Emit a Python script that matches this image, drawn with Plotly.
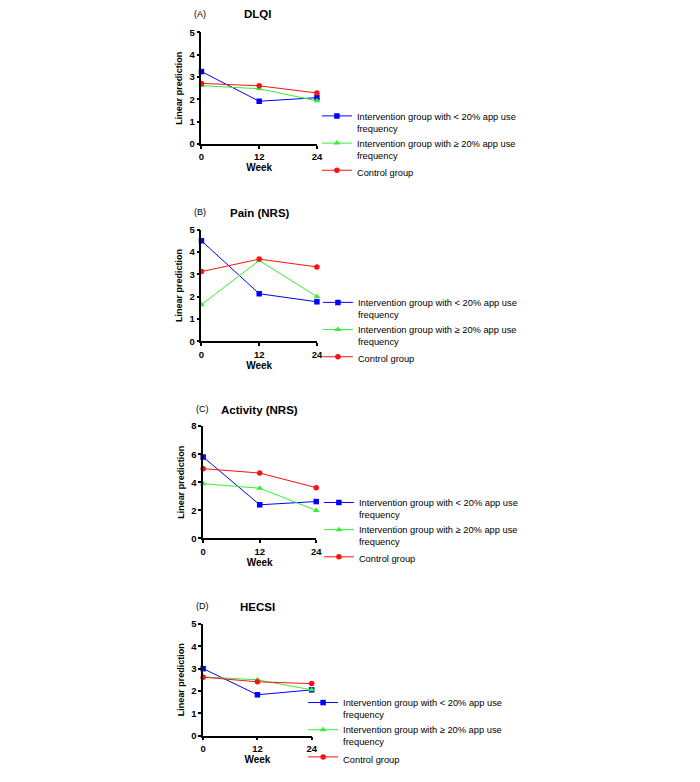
import plotly.graph_objects as go

OFF = 8                      # page body margin of the html page
W, H = 700 - 2 * OFF, 782 - 2 * OFF

weeks = [0, 12, 24]
week_ticks = [0, 12, 24]
series_names = [
    "Intervention group with < 20% app use<br>frequency",
    "Intervention group with ≥ 20% app use<br>frequency",
    "Control group",
]
panel_letters = ["(A)", "(B)", "(C)", "(D)"]
panel_titles = ["DLQI", "Pain (NRS)", "Activity (NRS)", "HECSI"]

dlqi_low = [3.25, 1.92, 2.08]
dlqi_high = [2.62, 2.48, 1.94]
dlqi_ctrl = [2.72, 2.61, 2.29]

pain_low = [4.5, 2.13, 1.77]
pain_high = [1.64, 3.62, 2.0]
pain_ctrl = [3.12, 3.68, 3.33]

act_low = [5.8, 2.4, 2.63]
act_high = [3.9, 3.58, 2.0]
act_ctrl = [4.97, 4.66, 3.62]

hecsi_low = [3.0, 1.83, 2.05]
hecsi_high = [2.63, 2.5, 2.05]
hecsi_ctrl = [2.62, 2.41, 2.33]

y_max = [5, 5, 8, 5]
y_dtick = [1, 1, 2, 1]

panels_data = [
    (dlqi_low, dlqi_high, dlqi_ctrl),
    (pain_low, pain_high, pain_ctrl),
    (act_low, act_high, act_ctrl),
    (hecsi_low, hecsi_high, hecsi_ctrl),
]


def px(x):
    return (x - OFF) / W


def py(y):
    return 1 - (y - OFF) / H


# page-pixel layout: (x_left, x_right, y_top, y_bottom)
boxes = [
    (201, 318, 27, 142),
    (201, 318, 230, 345),
    (202.7, 317.3, 432.3, 548),
    (202.7, 312.7, 636, 751),
]
# legend: (text start x, first entry y)
legend_pos = [(358, 115), (359, 307), (360, 513), (344, 719)]
title_y = [7.5, 211.7, 415, 617.7]
title_x = [258, 260, 260, 258]

colors = ["#0000FF", "#33EE33", "#FF1010"]
symbols = ["square", "triangle-up", "circle"]
msizes = [5.5, 6, 5.5]

FONT = "Arial, 'Liberation Sans', sans-serif"

fig = go.Figure()
layout = dict(
    width=W, height=H, margin=dict(l=0, r=0, t=0, b=0),
    paper_bgcolor="white", plot_bgcolor="white",
    font=dict(family=FONT, color="black", size=9),
    annotations=[],
)

for i, (data, box) in enumerate(zip(panels_data, boxes)):
    xl, xr, yt, yb = box
    n = "" if i == 0 else str(i + 1)
    lg = "legend" + n
    for j, vals in enumerate(data):
        fig.add_trace(go.Scatter(
            x=weeks, y=vals, name=series_names[j], mode="lines+markers",
            line=dict(color=colors[j], width=1),
            marker=dict(color=colors[j], symbol=symbols[j], size=msizes[j]),
            xaxis="x" + n, yaxis="y" + n, legend=lg, cliponaxis=False,
        ))
    layout["xaxis" + n] = dict(
        domain=[px(xl), px(xr)], range=[0, 24], anchor="y" + n,
        tickvals=week_ticks, showgrid=False, zeroline=False,
        showline=True, linecolor="black", linewidth=1.6,
        ticks="outside", ticklen=3, tickwidth=1.5, tickcolor="black",
        tickfont=dict(family=FONT, size=9.5, color="black", weight="bold"),
        title=dict(text="<b>Week</b>", font=dict(family=FONT, size=10), standoff=3),
    )
    layout["yaxis" + n] = dict(
        domain=[py(yb), py(yt)], range=[0, y_max[i]], anchor="x" + n,
        dtick=y_dtick[i], showgrid=False, zeroline=False,
        showline=True, linecolor="black", linewidth=1.6,
        ticks="outside", ticklen=3, tickwidth=1.5, tickcolor="black",
        tickfont=dict(family=FONT, size=9.5, color="black", weight="bold"),
        title=dict(text="<b>Linear prediction</b>", font=dict(family=FONT, size=9), standoff=5),
    )
    lx, ly = legend_pos[i]
    layout[lg] = dict(
        x=px(lx - 40), y=py(ly - 15), xanchor="left", yanchor="top",
        xref="paper", yref="paper", valign="top",
        bgcolor="rgba(0,0,0,0)", font=dict(family=FONT, size=9.3, color="black"),
        tracegroupgap=0, itemwidth=30,
    )
    ty = title_y[i]
    layout["annotations"].append(dict(
        text=panel_letters[i], x=px(xl - 1), y=py(ty), xref="paper", yref="paper",
        xanchor="center", yanchor="middle", showarrow=False,
        font=dict(family=FONT, size=9, color="black"),
    ))
    layout["annotations"].append(dict(
        text="<b>" + panel_titles[i] + "</b>", x=px(title_x[i]), y=py(ty + 1),
        xref="paper", yref="paper", xanchor="center", yanchor="middle",
        showarrow=False, font=dict(family=FONT, size=11.5, color="black"),
    ))

fig.update_layout(**layout)
fig.write_html("out.html")
